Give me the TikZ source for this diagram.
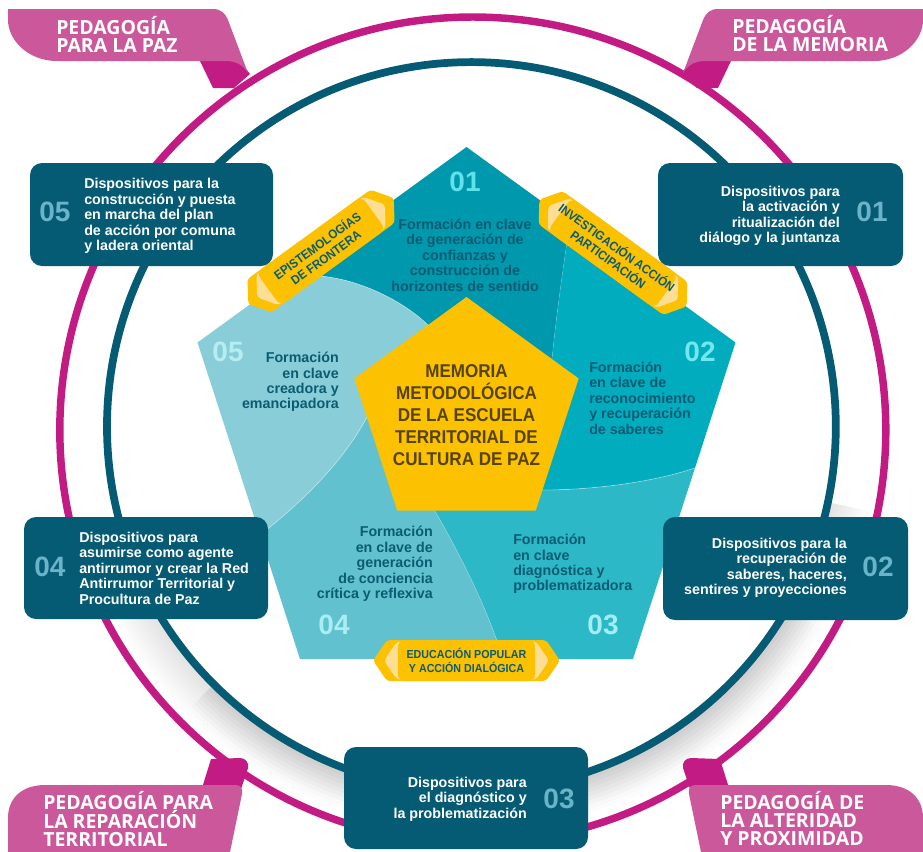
\documentclass[tikz,border=0pt]{standalone}
\usepackage{fontspec}
\setmainfont{Liberation Sans}
\newfontfamily\condfont{Liberation Sans}[FakeStretch=0.92]
\newfontfamily\ribbonfont{Open Sans}

\definecolor{ringmag}{HTML}{C21C84}
\definecolor{ribbonpink}{HTML}{CA589B}
\definecolor{deepteal}{HTML}{045B73}
\definecolor{boxnum}{HTML}{6AB3C8}
\definecolor{segA}{HTML}{0098AD}
\definecolor{segB}{HTML}{00ACBE}
\definecolor{segC}{HTML}{2CB8C7}
\definecolor{segD}{HTML}{62C1CF}
\definecolor{segE}{HTML}{89CDD8}
\definecolor{numA}{HTML}{5FE2EB}
\definecolor{numB}{HTML}{70E8EF}
\definecolor{numC}{HTML}{A2EEF3}
\definecolor{numD}{HTML}{A8EEF3}
\definecolor{numE}{HTML}{B4EDF2}
\definecolor{tagyellow}{HTML}{FCC100}
\definecolor{taglight}{HTML}{FEDE92}
\definecolor{coretext}{HTML}{574300}
\definecolor{segtext}{HTML}{0B5C72}

\tikzset{
  boxtxt/.style={font=\fontsize{10.7pt}{11.6pt}\selectfont\bfseries, text=white, inner sep=0pt},
  boxnumber/.style={font=\fontsize{21pt}{21pt}\selectfont\bfseries, text=boxnum, inner sep=0pt},
  segtxt/.style={font=\fontsize{10.7pt}{11.6pt}\selectfont\bfseries, text=segtext, inner sep=0pt},
  segnumber/.style={font=\fontsize{21pt}{21pt}\selectfont\bfseries, inner sep=0pt},
  coretxt/.style={font=\condfont\fontsize{13.9pt}{16.5pt}\selectfont\bfseries, text=coretext, inner sep=0pt, align=center},
  tagtxt/.style={font=\condfont\fontsize{#1}{10.8pt}\selectfont\bfseries, text=segtext, inner sep=0pt, align=center},
  ribbontxt/.style={font=\ribbonfont\fontsize{14.6pt}{13.5pt}\selectfont\bfseries, text=white, inner sep=0pt, align=left},
  devicebox/.style={fill=deepteal, rounded corners=9pt},
  divider/.style={white, opacity=0.35, line width=0.6pt},
}

% yellow pencil-like tag: name, centre, angle, length, font size, text
\newcommand{\yellowtag}[6]{%
  \begin{scope}[shift={#2}, rotate=#3, transform shape]
    \fill[tagyellow, rounded corners=2.5pt]
      (-#4/2,0) -- (-#4/2+14,-20.5) -- (#4/2-14,-20.5) -- (#4/2,0)
      -- (#4/2-14,20.5) -- (-#4/2+14,20.5) -- cycle;
    \fill[taglight, rounded corners=2.5pt]
      (-#4/2+11,0) -- (-#4/2+24,-19) -- (#4/2-24,-19) -- (#4/2-11,0)
      -- (#4/2-24,19) -- (-#4/2+24,19) -- cycle;
    \fill[tagyellow, rounded corners=5pt]
      (-#4/2+25,-20.5) rectangle (#4/2-25,20.5);
    \node[tagtxt=#5] (#1) at (0,0) {#6};
  \end{scope}}

\begin{document}
\begin{tikzpicture}[x=0.75pt, y=-0.75pt]
\useasboundingbox (0,0) rectangle (923,851);

% soft shadow beside the inner ring, strongest at the bottom
\foreach \w in {4,8,...,36}{
  \draw[black, opacity=0.012, line width=\w*0.75pt]
    (471.4,426.5) ++(12:368+\w/2) arc[start angle=12, end angle=152, radius=368+\w/2];
}
\foreach \w in {4,8,...,28}{
  \draw[black, opacity=0.012, line width=\w*0.75pt]
    (471.4,426.5) ++(30:368+\w/2) arc[start angle=30, end angle=135, radius=368+\w/2];
}

% the two rings
\draw[ringmag, line width=5.6pt] (472.8,430) circle[radius=413];
\draw[deepteal, line width=5.8pt] (471.4,426.5) circle[radius=364.4];

% ribbon shapes, left side
\fill[ringmag] (200,61) -- (213,88) -- (234,88) -- (250,74) -- (238,58) -- cycle;
\fill[ribbonpink] (8,9) -- (213,9) .. controls (221,9) and (225,13) .. (228,20)
  -- (248,73) .. controls (243,65) and (236,61) .. (226,61)
  -- (57,61) .. controls (28,61) and (8,40) .. (8,20) -- cycle;
\fill[ringmag] (202,788) -- (211,759) -- (240,758) .. controls (246,758) and (249,763) .. (248,768) -- (240,792) -- cycle;
\fill[ribbonpink] (8,852) -- (8,818) .. controls (8,798) and (22,785) .. (45,785)
  -- (236,785) .. controls (241,785) and (243,789) .. (242,794) -- (230,852) -- cycle;

% ribbon shapes, right side (mirrored)
\begin{scope}[shift={(931,0)}, xscale=-1]
\fill[ringmag] (200,61) -- (213,88) -- (234,88) -- (250,74) -- (238,58) -- cycle;
\fill[ribbonpink] (8,9) -- (213,9) .. controls (221,9) and (225,13) .. (228,20)
  -- (248,73) .. controls (243,65) and (236,61) .. (226,61)
  -- (57,61) .. controls (28,61) and (8,40) .. (8,20) -- cycle;
\fill[ringmag] (202,788) -- (211,759) -- (240,758) .. controls (246,758) and (249,763) .. (248,768) -- (240,792) -- cycle;
\fill[ribbonpink] (8,852) -- (8,818) .. controls (8,798) and (22,785) .. (45,785)
  -- (236,785) .. controls (241,785) and (243,789) .. (242,794) -- (230,852) -- cycle;
\end{scope}

\node[ribbontxt, anchor=west] (pazR) at (56,34) {PEDAGOGÍA\\PARA LA PAZ};
\node[ribbontxt, anchor=west] (memR) at (732,34) {PEDAGOGÍA\\DE LA MEMORIA};
\node[ribbontxt, anchor=west] (repR) at (43,819) {PEDAGOGÍA PARA\\LA REPARACIÓN\\TERRITORIAL};
\node[ribbontxt, anchor=west] (altR) at (720,819) {PEDAGOGÍA DE\\LA ALTERIDAD\\Y PROXIMIDAD};

% pentagon corners
\coordinate (T) at (466.5,147);
\coordinate (R) at (735.5,342.5);
\coordinate (BRv) at (633,659);
\coordinate (BLv) at (300,659);
\coordinate (Lv) at (197.5,342.5);
\coordinate (C) at (466.5,415);

% five swirling segments
\fill[segA] (285,279) -- (T) -- (570,222) .. controls (563,268) and (556,318) .. (552,359)
  -- (C) -- (428,325) .. controls (395,293) and (330,266) .. (285,279) -- cycle;
\fill[segB] (570,222) -- (R) -- (695,468) .. controls (650,483) and (590,490) .. (542,490)
  -- (C) -- (552,359) .. controls (556,318) and (563,268) .. (570,222) -- cycle;
\fill[segC] (695,468) -- (BRv) -- (503,659) .. controls (488,610) and (462,558) .. (435,511)
  -- (C) -- (542,490) .. controls (590,490) and (650,483) .. (695,468) -- cycle;
\fill[segD] (503,659) -- (BLv) -- (260,535) .. controls (292,510) and (340,468) .. (367,417)
  -- (C) -- (435,511) .. controls (462,558) and (488,610) .. (503,659) -- cycle;
\fill[segE] (260,535) -- (Lv) -- (285,279) .. controls (330,266) and (395,293) .. (428,325)
  -- (C) -- (367,417) .. controls (340,468) and (292,510) .. (260,535) -- cycle;

\draw[divider] (285,279) .. controls (330,266) and (395,293) .. (428,325);
\draw[divider, opacity=0.12] (570,222) .. controls (563,268) and (556,318) .. (552,359);
\draw[divider] (695,468) .. controls (650,483) and (590,490) .. (542,490);
\draw[divider, opacity=0.2] (503,659) .. controls (488,610) and (462,558) .. (435,511);
\draw[divider] (260,535) .. controls (292,510) and (340,468) .. (367,417);

% central pentagon
\fill[tagyellow] (466.5,297) -- (578.7,378.5) -- (535.8,510.5) -- (397.2,510.5) -- (354.3,378.5) -- cycle;
\node[coretxt] (core) at (466.5,415) {MEMORIA\\METODOLÓGICA\\DE LA ESCUELA\\TERRITORIAL DE\\CULTURA DE PAZ};

% segment numbers and texts
\node[segnumber, text=numA] (n1) at (465,182) {01};
\node[segtxt, align=center] (s1) at (465,255) {Formación en clave\\de generación de\\confianzas y\\construcción de\\horizontes de sentido};
\node[segnumber, text=numB] (n2) at (700,352) {02};
\node[segtxt, align=left, anchor=west] (s2) at (589,398) {Formación\\en clave de\\reconocimiento\\y recuperación\\de saberes};
\node[segnumber, text=numC] (n3) at (603,625) {03};
\node[segtxt, align=left, anchor=west] (s3) at (513,564) {Formación\\en clave\\diagnóstica y\\problematizadora};
\node[segnumber, text=numD] (n4) at (334,625) {04};
\node[segtxt, align=right, anchor=east] (s4) at (433,564) {Formación\\en clave de\\generación\\de conciencia\\crítica y reflexiva};
\node[segnumber, text=numE] (n5) at (228,352) {05};
\node[segtxt, align=right, anchor=east] (s5) at (339,382) {Formación\\en clave\\creadora y\\emancipadora};

% yellow tags along the pentagon edges
\yellowtag{epis}{(321,251)}{36}{180}{9.4pt}{EPISTEMOLOGÍAS\\DE FRONTERA}
\yellowtag{iap}{(613,253)}{-36}{182}{9.4pt}{INVESTIGACIÓN ACCIÓN\\PARTICIPACIÓN}
\yellowtag{edu}{(466.5,660.5)}{0}{187}{8.7pt}{EDUCACIÓN POPULAR\\Y ACCIÓN DIALÓGICA}

% device boxes
\fill[devicebox] (30,163) rectangle (273,266);
\node[boxnumber] (b5n) at (55,212) {05};
\node[boxtxt, align=left, anchor=west] (b5) at (84,216) {Dispositivos para la\\construcción y puesta\\en marcha del plan\\de acción por comuna\\y ladera oriental};

\fill[devicebox] (658,163) rectangle (903,266);
\node[boxnumber] (b1n) at (872,212) {01};
\node[boxtxt, align=right, anchor=east] (b1) at (840,216) {Dispositivos para\\la activación y\\ritualización del\\diálogo y la juntanza};

\fill[devicebox] (24,517) rectangle (268,619);
\node[boxnumber] (b4n) at (50,567) {04};
\node[boxtxt, align=left, anchor=west] (b4) at (79,568) {Dispositivos para\\asumirse como agente\\antirrumor y crear la Red\\Antirrumor Territorial y\\Procultura de Paz};

\fill[devicebox] (663,517) rectangle (908,620);
\node[boxnumber] (b2n) at (878,567) {02};
\node[boxtxt, align=right, anchor=east] (b2) at (847,568) {Dispositivos para la\\recuperación de\\saberes, haceres,\\sentires y proyecciones};

\fill[devicebox] (344,747) rectangle (588,849);
\node[boxnumber] (b3n) at (559,799) {03};
\node[boxtxt, align=right, anchor=east] (b3) at (527,799) {Dispositivos para\\el diagnóstico y\\la problematización};

\end{tikzpicture}
\end{document}
